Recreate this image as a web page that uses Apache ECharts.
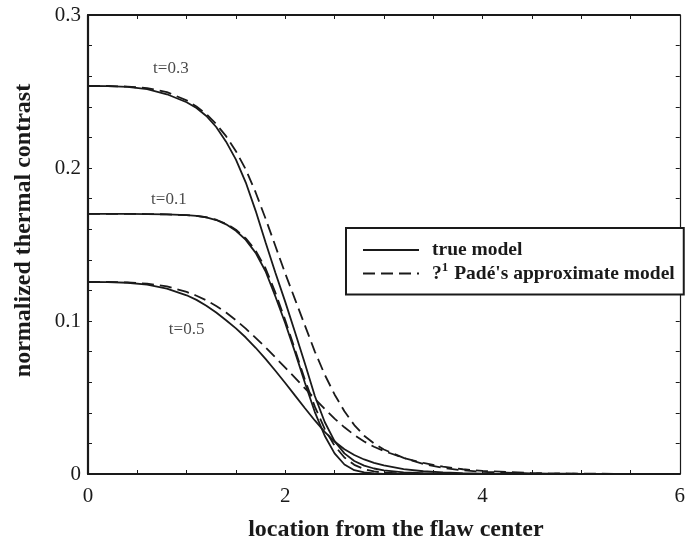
<!DOCTYPE html>
<html><head><meta charset="utf-8">
<script src="https://cdn.jsdelivr.net/npm/echarts@6/dist/echarts.min.js"></script>
<style>html,body{margin:0;padding:0;background:#fff}#c{width:688px;height:548px}</style>
</head><body><div id="c"></div>
<script>
// ---- data ----
const xs = [0,0.2,0.4,0.6,0.8,1.0,1.1,1.2,1.3,1.4,1.5,1.6,1.7,1.8,1.9,2.0,2.1,2.2,2.3,2.4,2.5,2.6,2.7,2.8,2.9,3.0,3.2,3.4,3.6,3.8,4.0,4.5,5.0,5.5,6.0];
const t03True = [0.2536,0.2535,0.2530,0.2515,0.2482,0.2430,0.2392,0.2340,0.2268,0.2172,0.2055,0.1905,0.1720,0.1515,0.1315,0.1125,0.0925,0.0720,0.0510,0.0340,0.0215,0.0135,0.0085,0.0055,0.0036,0.0024,0.0011,0.0005,0.0002,0.0001,0,0,0,0,0];
const t03Pade = [0.2536,0.2536,0.2532,0.2522,0.2496,0.2442,0.2402,0.2352,0.2287,0.2208,0.2110,0.1990,0.1840,0.1670,0.1490,0.1310,0.1140,0.0970,0.0800,0.0650,0.0520,0.0410,0.0320,0.0250,0.0200,0.0160,0.0105,0.0065,0.0040,0.0024,0.0014,0.0004,0.0001,0,0];
const t01True = [0.1700,0.1700,0.1700,0.1699,0.1697,0.1692,0.1687,0.1677,0.1660,0.1632,0.1590,0.1530,0.1445,0.1325,0.1160,0.0985,0.0795,0.0595,0.0405,0.0250,0.0135,0.0062,0.0025,0.0010,0.0004,0.0001,0,0,0,0,0,0,0,0,0];
const t01Pade = [0.1700,0.1700,0.1700,0.1699,0.1697,0.1692,0.1687,0.1678,0.1662,0.1636,0.1597,0.1540,0.1460,0.1345,0.1185,0.1005,0.0810,0.0615,0.0440,0.0295,0.0185,0.0108,0.0060,0.0032,0.0017,0.0009,0.0003,0.0001,0,0,0,0,0,0,0];
const t05True = [0.1255,0.1254,0.1250,0.1238,0.1212,0.1168,0.1138,0.1100,0.1055,0.1005,0.0952,0.0892,0.0825,0.0752,0.0675,0.0595,0.0512,0.0430,0.0350,0.0275,0.0212,0.0162,0.0124,0.0095,0.0073,0.0056,0.0032,0.0018,0.0010,0.0005,0.0003,0.0001,0,0,0];
const t05Pade = [0.1255,0.1255,0.1252,0.1244,0.1226,0.1190,0.1165,0.1135,0.1098,0.1055,0.1005,0.0950,0.0890,0.0828,0.0762,0.0695,0.0628,0.0560,0.0492,0.0425,0.0362,0.0305,0.0255,0.0212,0.0178,0.0150,0.0105,0.0072,0.0048,0.0031,0.0020,0.0006,0.0002,0.0001,0];
const curveLabels = ['t=0.3','t=0.1','t=0.5'];
const curveLabelX = [0.84,0.82,1.00];
const curveLabelY = [0.2647,0.1797,0.0941];
const xTickLabels = ['0','2','4','6'];
const yTickLabels = ['0','0.1','0.2','0.3'];
const TRUE_NAME = 'true model';
const PADE_NAME = "?1 Padé's approximate model";

// ---- chart ----
const serif = 'Liberation Serif, Times New Roman, serif';
const ink = '#1a1a1a';
const pts = ys => xs.map((x,i)=>[x, ys[i]]);
const solid = (ys) => ({type:'line', name:TRUE_NAME, data:pts(ys), symbol:'none', showSymbol:false,
  lineStyle:{color:ink, width:1.8, type:'solid'}, itemStyle:{color:ink}, z:3});
const dashed = (ys) => ({type:'line', name:PADE_NAME, data:pts(ys), symbol:'none', showSymbol:false,
  lineStyle:{color:ink, width:1.8, type:[12,6]}, itemStyle:{color:ink}, z:3});

const axisCommon = (w) => ({
  axisLine:{show:true, onZero:false, lineStyle:{color:ink, width:w}},
  axisTick:{show:true, inside:true, length:4, lineStyle:{color:ink, width:1}},
  splitLine:{show:false}, minorSplitLine:{show:false}
});

const chart = echarts.init(document.getElementById('c'), null, {renderer:'canvas'});
chart.setOption({
  animation:false,
  backgroundColor:'#fff',
  grid:{left:88, right:1, top:15, bottom:74, containLabel:false},
  xAxis:[
    Object.assign({type:'value', min:0, max:6, interval:2, position:'bottom',
      axisLabel:{fontFamily:serif, fontSize:21, color:ink, margin:12,
        formatter:v=>xTickLabels[Math.round(v/2)]},
      name:'location from the flaw center', nameLocation:'middle', nameGap:44,
      nameTextStyle:{fontFamily:serif, fontWeight:'bold', fontSize:24, color:ink, padding:[0,0,0,24]}}, axisCommon(2.2),
      {minorTick:{show:true, splitNumber:4, length:4, lineStyle:{color:ink}}}),
    Object.assign({type:'value', min:0, max:6, interval:2, position:'top',
      axisLabel:{show:false}}, axisCommon(2.2),
      {minorTick:{show:true, splitNumber:4, length:4, lineStyle:{color:ink}}})
  ],
  yAxis:[
    Object.assign({type:'value', min:0, max:0.3, interval:0.1, position:'left',
      axisLabel:{fontFamily:serif, fontSize:21, color:ink, margin:7,
        formatter:v=>yTickLabels[Math.round(v*10)]},
      name:'normalized thermal contrast', nameLocation:'middle', nameGap:52, nameRotate:90,
      nameTextStyle:{fontFamily:serif, fontWeight:'bold', fontSize:24, color:ink, padding:[0,0,0,28]}}, axisCommon(2.2),
      {minorTick:{show:true, splitNumber:5, length:4, lineStyle:{color:ink}}}),
    Object.assign({type:'value', min:0, max:0.3, interval:0.1, position:'right',
      axisLabel:{show:false}}, axisCommon(1.2),
      {minorTick:{show:true, splitNumber:5, length:4, lineStyle:{color:ink}}})
  ],
  legend:{
    orient:'vertical', left:346, top:228,
    data:[TRUE_NAME, PADE_NAME],
    backgroundColor:'#fff', borderColor:ink, borderWidth:2, borderRadius:0,
    padding:[12,9,11,16], itemWidth:56, itemHeight:14, itemGap:1,
    selectedMode:false,
    itemStyle:{opacity:0, borderWidth:0},
    lineStyle:{width:2},
    textStyle:{fontFamily:serif, fontWeight:'bold', fontSize:19.5, color:ink, padding:[0,0,0,8],
      rich:{
        n:{fontFamily:serif, fontWeight:'bold', fontSize:19.5, color:ink},
        sup:{fontFamily:serif, fontWeight:'bold', fontSize:13, color:ink, padding:[0,1,12,0]}
      }},
    formatter:name => name===PADE_NAME ? '{n|?}{sup|1}{n| Padé\'s approximate model}' : '{n|'+name+'}'
  },
  series:[
    solid(t03True), dashed(t03Pade),
    solid(t01True), dashed(t01Pade),
    solid(t05True), dashed(t05Pade),
    {type:'scatter', name:'labels', symbolSize:0, silent:true, legendHoverLink:false,
      data:curveLabels.map((s,i)=>({value:[curveLabelX[i], curveLabelY[i]], name:s})),
      label:{show:true, position:'inside', formatter:p=>p.name, fontFamily:serif, fontSize:17, color:ink}}
  ]
});
</script></body></html>
